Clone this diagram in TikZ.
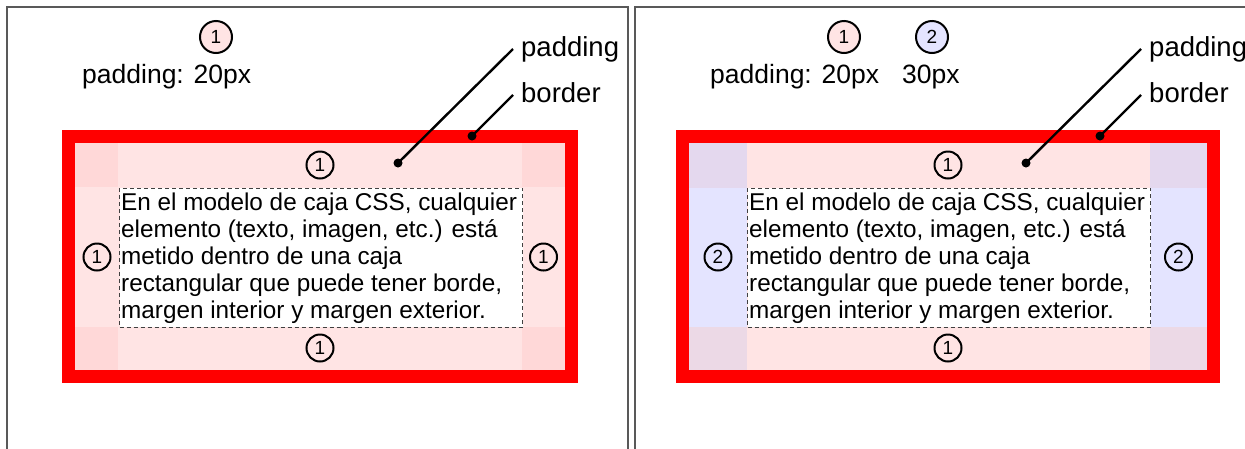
\documentclass[tikz,border=0pt]{standalone}
\usepackage{fontspec}
\setmainfont{Liberation Sans}

\definecolor{padrosa}{HTML}{FFE4E4}
\definecolor{esqrosa}{HTML}{FFD8D8}
\definecolor{padlila}{HTML}{E4E4FF}
\definecolor{esqlila}{HTML}{E4D8EE}
\definecolor{esqmix}{HTML}{ECD9E6}

\tikzset{
  marco/.style={draw=black!65, line width=1.3pt},
  numero/.style={circle, draw, line width=2pt, minimum size=27pt, inner sep=0pt,
    font=\fontsize{19}{19}\selectfont},
  numley/.style={numero, minimum size=32pt},
  etiqueta/.style={anchor=base west, inner ysep=0pt, inner xsep=8pt, text height=19pt,
    text depth=5pt, font=\fontsize{27.5}{30}\selectfont},
  leyenda/.style={anchor=base west, inner sep=0pt, font=\fontsize{26.5}{30}\selectfont},
  caja/.style={draw=black!75, fill=white, dash pattern=on 4pt off 3pt, line width=1pt,
    anchor=north west, inner sep=0pt},
  texto/.style={anchor=north west, inner sep=0pt, align=left,
    font=\fontsize{24.3}{27}\selectfont},
  punto/.style={circle, fill, inner sep=0pt, minimum size=9pt},
  guia/.style={line width=2.4pt}
}

\begin{document}
\begin{tikzpicture}[x=1pt,y=-1pt]
\useasboundingbox (0,0) rectangle (1245,448);

\draw[marco] (7,7) rectangle (628,470);
\draw[marco] (635,7) rectangle (1280,470);

% padding: 20px
\fill[red] (62,130) rectangle (578,383);
\fill[padrosa] (75,143) rectangle (565,370);
\foreach \x/\y in {75/143,522/143,75/326.5,522/326.5}
  \fill[esqrosa] (\x,\y) rectangle ++(43,43.5);
\node[caja, minimum width=403pt, minimum height=139pt] (cajaA) at (119,187.5) {};
\node[texto] (textoA) at (121,192.5) {En el modelo de caja CSS, cualquier\\
elemento (texto, imagen, etc.) está\\
metido dentro de una caja\\
rectangular que puede tener borde,\\
margen interior y margen exterior.};

\node[numero] (arribaA) at (320,165) {1};
\node[numero] (izqA) at (97,257) {1};
\node[numero] (derA) at (543.5,257) {1};
\node[numero] (abajoA) at (320,348) {1};

\node[numley, fill=padrosa] (leyunoA) at (216,37) {1};
\node[leyenda] (leyA) at (82,83) {padding: 20px};

\node[etiqueta] (padA) at (513,56) {padding};
\node[etiqueta] (borA) at (513,102) {border};
\node[punto] (ppA) at (398,163) {};
\node[punto] (pbA) at (472,136) {};
\draw[guia] (padA.west) -- (ppA.center);
\draw[guia] (borA.west) -- (pbA.center);

% padding: 20px 30px
\fill[red] (676,130) rectangle (1220,383);
\fill[padrosa] (689,143) rectangle (1207,370);
\fill[padlila] (689,187.5) rectangle (747,326.5);
\fill[padlila] (1150,187.5) rectangle (1207,326.5);
\fill[esqlila] (689,143) rectangle (747,187.5);
\fill[esqlila] (1150,143) rectangle (1207,187.5);
\fill[esqmix] (689,326.5) rectangle (747,370);
\fill[esqmix] (1150,326.5) rectangle (1207,370);
\node[caja, minimum width=403pt, minimum height=139pt] (cajaB) at (747,187.5) {};
\node[texto] (textoB) at (749,192.5) {En el modelo de caja CSS, cualquier\\
elemento (texto, imagen, etc.) está\\
metido dentro de una caja\\
rectangular que puede tener borde,\\
margen interior y margen exterior.};

\node[numero] (arribaB) at (948,165) {1};
\node[numero] (izqB) at (718,257) {2};
\node[numero] (derB) at (1178.5,257) {2};
\node[numero] (abajoB) at (948,348) {1};

\node[numley, fill=padrosa] (leyunoB) at (844,37) {1};
\node[numley, fill=padlila] (leydosB) at (932,37) {2};
\node[leyenda] (leyB) at (710,83) {padding: 20px};
\node[leyenda] (leyC) at (902,83) {30px};

\node[etiqueta] (padB) at (1141,56) {padding};
\node[etiqueta] (borB) at (1141,102) {border};
\node[punto] (ppB) at (1026,163) {};
\node[punto] (pbB) at (1100,136) {};
\draw[guia] (padB.west) -- (ppB.center);
\draw[guia] (borB.west) -- (pbB.center);
\end{tikzpicture}
\end{document}
